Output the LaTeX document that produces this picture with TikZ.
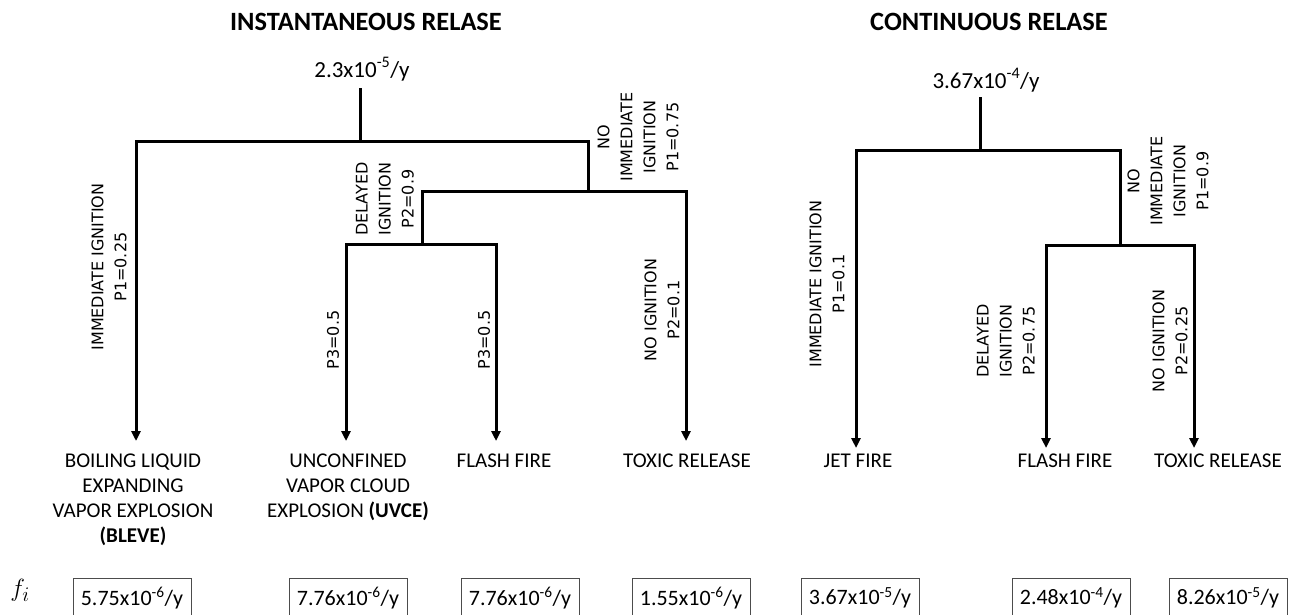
\documentclass[tikz,border=0pt]{standalone}
\usepackage{fontspec}
\setmainfont{Carlito}
\usetikzlibrary{arrows.meta}
\begin{document}
\begin{tikzpicture}[x=1pt,y=-1pt,
  title/.style={font=\bfseries\fontsize{26.4}{30}\selectfont, inner sep=0},
  val/.style={font=\fontsize{23}{27}\selectfont, inner sep=0, anchor=base},
  tree/.style={line width=3pt, line join=miter},
  arr/.style={tree, -{Triangle[width=9pt,length=10pt]}},
  rot/.style={rotate=90, align=center, inner sep=0, font=\fontspec{DejaVu Sans}\fontsize{16}{23}\selectfont},
  outc/.style={align=center, anchor=north, inner sep=0, font=\fontsize{21}{25}\selectfont},
  fbox/.style={draw=black!70, line width=1pt, minimum width=118pt, minimum height=40pt, inner sep=0, font=\fontsize{22}{26}\selectfont}
]
\useasboundingbox (0,0) rectangle (1296,614);
\clip (0,0) rectangle (1296,614);

% titles
\node[title] (t1) at (366,22) {INSTANTANEOUS RELASE};
\node[title] (t2) at (989,22) {CONTINUOUS RELASE};

% root frequencies
\node[val] (r1) at (362,77) {2.3x10\textsuperscript{-5}/y};
\node[val] (r2) at (986,88) {3.67x10\textsuperscript{-4}/y};

% ---------- instantaneous tree ----------
\coordinate (s1) at (360,88);
\coordinate (j1) at (360,141);
\coordinate (k1) at (588,191);
\coordinate (k2) at (422,244);
\coordinate (a1) at (136,441);
\coordinate (a2) at (346,441);
\coordinate (a3) at (496,441);
\coordinate (a4) at (686,441);
\draw[tree] (s1) -- (j1);
\draw[arr] (j1) -| (a1);
\draw[tree] (j1) -| (k1);
\draw[tree] (k1) -| (k2);
\draw[arr] (k1) -| (a4);
\draw[arr] (k2) -| (a2);
\draw[arr] (k2) -| (a3);

% ---------- continuous tree ----------
\coordinate (s2) at (980,97);
\coordinate (j2) at (980,150);
\coordinate (m2) at (1120,245);
\coordinate (b1) at (856,448);
\coordinate (b2) at (1046,448);
\coordinate (b3) at (1194,448);
\draw[tree] (s2) -- (j2);
\draw[arr] (j2) -| (b1);
\draw[tree] (j2) -| (m2);
\draw[arr] (m2) -| (b2);
\draw[arr] (m2) -| (b3);

% branch labels
\node[rot] (l1) at (109,267) {IMMEDIATE IGNITION\\P1=0.25};
\node[rot] (l2) at (385,199) {DELAYED\\IGNITION\\P2=0.9};
\node[rot] (l3) at (638,137) {NO\\IMMEDIATE\\IGNITION\\P1=0.75};
\node[rot] (l4) at (333,340) {P3=0.5};
\node[rot] (l5) at (484,340) {P3=0.5};
\node[rot] (l6) at (662,310) {NO IGNITION\\P2=0.1};
\node[rot] (l7) at (827,284) {IMMEDIATE IGNITION\\P1=0.1};
\node[rot] (l8) at (1168,181) {NO\\IMMEDIATE\\IGNITION\\P1=0.9};
\node[rot] (l9) at (1006,341) {DELAYED\\IGNITION\\P2=0.75};
\node[rot] (l10) at (1170,341) {NO IGNITION\\P2=0.25};

% outcomes
\node[outc] (o1) at (133,454) {BOILING LIQUID\\EXPANDING\\VAPOR EXPLOSION\\\textbf{(BLEVE)}};
\node[outc] (o2) at (348,454) {UNCONFINED\\VAPOR CLOUD\\EXPLOSION \textbf{(UVCE)}};
\node[outc] (o3) at (504,454) {FLASH FIRE};
\node[outc] (o4) at (687,454) {TOXIC RELEASE};
\node[outc] (o5) at (858,454) {JET FIRE};
\node[outc] (o6) at (1065,454) {FLASH FIRE};
\node[outc] (o7) at (1218,454) {TOXIC RELEASE};

% frequencies
\node (fi) at (20,590) {\fontsize{30}{34}\selectfont$f_i$};
\node[fbox] (f1) at (132,598) {5.75x10\textsuperscript{-6}/y};
\node[fbox] (f2) at (348,598) {7.76x10\textsuperscript{-6}/y};
\node[fbox] (f3) at (520,598) {7.76x10\textsuperscript{-6}/y};
\node[fbox] (f4) at (691,598) {1.55x10\textsuperscript{-6}/y};
\node[fbox] (f5) at (860,598) {3.67x10\textsuperscript{-5}/y};
\node[fbox] (f6) at (1071,598) {2.48x10\textsuperscript{-4}/y};
\node[fbox] (f7) at (1228,598) {8.26x10\textsuperscript{-5}/y};
\end{tikzpicture}
\end{document}
